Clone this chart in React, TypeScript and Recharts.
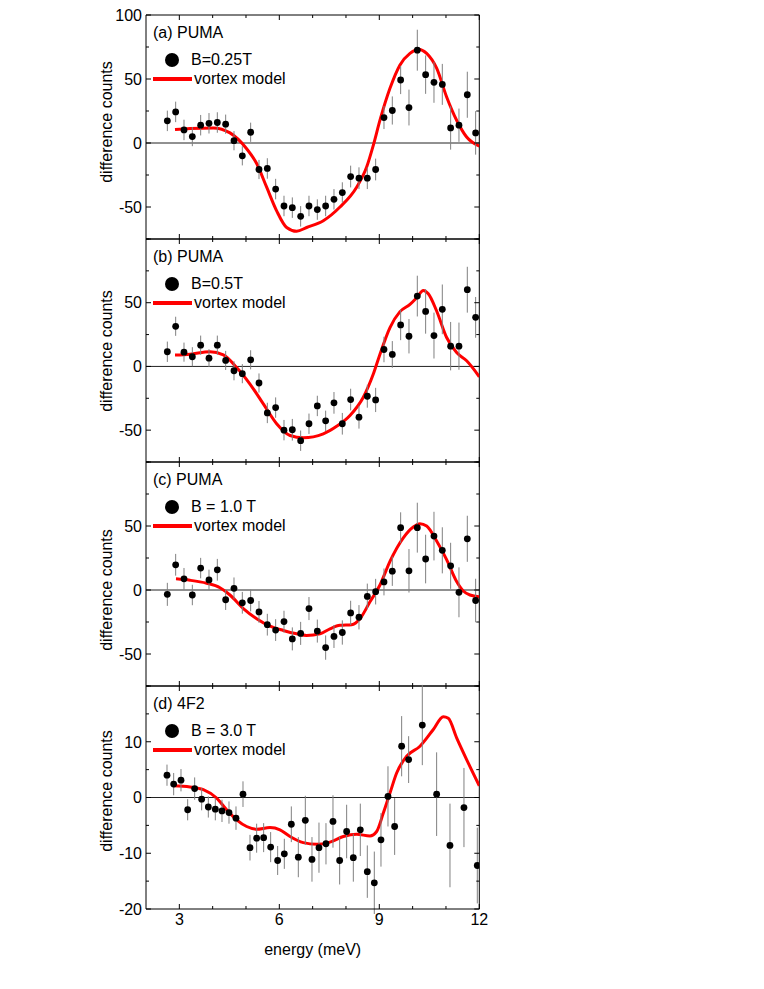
import React from "react";
import {
  ComposedChart,
  Line,
  Scatter,
  ErrorBar,
  XAxis,
  YAxis,
  ReferenceLine,
} from "recharts";

const FONT = "'Liberation Sans', Arial, Helvetica, sans-serif";

// energy grid of the PUMA scans (meV)
const energyPuma = [
  2.64, 2.89, 3.14, 3.39, 3.64, 3.89, 4.14, 4.39, 4.64, 4.89, 5.14, 5.39, 5.64,
  5.89, 6.14, 6.39, 6.64, 6.89, 7.14, 7.39, 7.64, 7.89, 8.14, 8.39, 8.64, 8.89,
  9.14, 9.39, 9.64, 9.89, 10.14, 10.39, 10.64, 10.89, 11.14, 11.39, 11.64, 11.89,
];

// (a) B=0.25T
const countsA = [
  17.3, 24.3, 10.2, 5, 13.9, 15.4, 16, 14.7, 1.8, -10, 8.4, -20.7, -19.9, -36,
  -49.2, -50.5, -57.3, -49.2, -52, -49.2, -44, -38.7, -26.2, -27.5, -27.5, -20.7,
  19.9, 25.4, 49.2, 27.7, 72.5, 53.4, 47.4, 45.8, 11.8, 13.9, 37.7, 7.9,
];
const errA = [
  8, 8, 8, 7.5, 8, 8, 8, 7.5, 7.5, 7.5, 7.5, 7.5, 8, 8, 8, 8, 8, 8, 8, 8, 8, 8,
  8.5, 8.5, 8.5, 8.5, 9, 11, 11, 14, 16, 15, 16, 16, 17, 13, 18, 17,
];

// (b) B=0.5T
const countsB = [
  11.5, 31.5, 11.2, 7.6, 16.7, 6.5, 16.7, 4.7, -3.4, -5.7, 5.2, -13, -36.5, -32.3,
  -50, -49.7, -58.3, -45, -31, -42.7, -28.6, -45, -26, -39.8, -23.4, -26.3, 13.3,
  9.4, 32.6, 23.7, 55.2, 43.2, 24.2, 44.8, 15.9, 15.9, 60.2, 38.5,
];
const errB = [
  8, 7.5, 7.5, 7.5, 7.5, 7, 7.5, 7.5, 7.5, 7.5, 7.5, 7.5, 8, 8, 8, 8.5, 8, 8, 8, 8,
  8.5, 8.5, 8.5, 9, 9, 9.5, 10, 10.5, 12, 13.5, 16, 17.5, 18, 19.5, 19, 18.5, 18, 16,
];

// (c) B = 1.0 T
const countsC = [
  -3.4, 19.7, 8.7, -3.9, 17.1, 7.9, 15.8, -7.6, 1.3, -10, -8.2, -17.1, -27.1,
  -31.3, -24.7, -38.2, -33.9, -14.5, -32.1, -45, -36.3, -33.2, -17.9, -21.3, -5,
  -1.3, 6.3, 14.7, 48.7, 15, 48.7, 24.2, 42.1, 31, 18.9, -1.8, 40, -8.2,
];
const errC = [
  9, 8.5, 8.5, 8, 8, 8, 8.5, 8, 8.5, 8.5, 8.5, 8.5, 8.5, 8.5, 8.5, 9, 9, 9, 9, 9.5,
  9, 9.5, 9.5, 9.5, 10, 10, 10.5, 11.5, 12, 17, 19.5, 19, 19, 18, 18, 19.5, 18, 17,
];

// (d) 4F2, B = 3.0 T
const energy4F2 = [
  2.63, 2.83, 3.05, 3.25, 3.46, 3.67, 3.87, 4.08, 4.28, 4.49, 4.7, 4.91, 5.12,
  5.32, 5.53, 5.74, 5.95, 6.15, 6.36, 6.57, 6.78, 6.98, 7.19, 7.4, 7.61, 7.81,
  8.02, 8.22, 8.43, 8.64, 8.85, 9.05, 9.26, 9.46, 9.67, 9.88, 10.29, 10.72, 11.12,
  11.54, 11.94,
];
const countsD = [
  4, 2.4, 3.1, -2.2, 1.6, -0.3, -1.7, -2.1, -2.4, -2.7, -3.7, 0.6, -9, -7.3, -7.2,
  -8.9, -11.3, -10.1, -4.8, -10.7, -4.1, -11.1, -9, -8.3, -4.3, -11.3, -6.1,
  -10.8, -5.8, -13.3, -15.3, -7.6, 0.2, -5.2, 9.2, 6.8, 13, 0.6, -8.6, -1.8, -12.2,
];
const errD = [
  1.9, 2, 2, 1.9, 2, 2, 1.9, 2, 2, 2, 2.1, 2.3, 2.3, 2.6, 2.6, 2.7, 2.6, 2.7, 3.2,
  3.6, 4.4, 4, 4.5, 3.7, 4.7, 4.3, 4.8, 4.3, 4.7, 4.7, 5.6, 4.8, 5.4, 5.1, 5.4,
  4.2, 7.2, 7.5, 7.5, 7.1, 6.8,
];

// vortex model curves
const modelAx = [
  2.87, 3.32, 4.02, 4.52, 5.02, 5.32, 5.62, 5.92, 6.22, 6.52, 6.82, 7.32, 7.82,
  8.32, 8.62, 8.82, 9.02, 9.32, 9.62, 9.92, 10.17, 10.42, 10.72, 11.02, 11.32,
  11.62, 12,
];
const modelAy = [
  10.5, 11.3, 11.8, 7.9, -4.5, -16, -34.5, -53, -66, -69, -66, -60.7, -50, -34.5,
  -18.8, -1.8, 17.8, 42.7, 61, 70, 73.3, 70, 58.4, 36, 17.8, 4.7, -2.4,
];
const modelBx = [
  2.87, 3.32, 3.92, 4.32, 4.72, 5.12, 5.52, 5.92, 6.32, 6.72, 7.32, 7.72, 8.12,
  8.52, 8.82, 9.02, 9.32, 9.62, 9.92, 10.12, 10.32, 10.47, 10.72, 11.02, 11.32,
  11.62, 12,
];
const modelBy = [
  8.9, 9.6, 11.5, 9.1, -0.8, -13.8, -29.4, -45, -54.2, -56, -52.9, -47, -38.5,
  -24.2, -6, 9.6, 30.5, 43, 48.7, 53.9, 59.6, 57, 43.5, 22.7, 10.9, 4.4, -8.1,
];
const modelCx = [
  2.9, 3.32, 3.82, 4.22, 4.52, 4.92, 5.32, 5.72, 6.12, 6.52, 6.82, 7.22, 7.52,
  7.82, 8.17, 8.42, 8.72, 9.02, 9.32, 9.72, 10.02, 10.22, 10.42, 10.72, 11.02,
  11.32, 11.52, 11.72, 12,
];
const modelCy = [
  8.7, 7.6, 5.3, 1.8, -3.9, -14.5, -22.4, -28.2, -31.6, -34.2, -35.5, -34.2,
  -30.3, -27.6, -27.1, -22.4, -9.2, 3.9, 22.4, 40.8, 49.2, 51.8, 50, 38.2, 23.7,
  6.6, -0.8, -3.9, -5.3,
];
const modelDx = [
  2.82, 3.32, 3.72, 4.12, 4.42, 4.72, 5.02, 5.32, 5.72, 6.02, 6.32, 6.72, 7.12,
  7.52, 7.92, 8.32, 8.72, 8.92, 9.12, 9.32, 9.52, 9.82, 10.22, 10.62, 10.92,
  11.07, 11.32, 11.62, 12,
];
const modelDy = [
  2.1, 1.9, 1.4, -0.1, -2.2, -4, -5.2, -5.7, -5.4, -5.8, -7, -8.1, -8.4, -8, -7,
  -6.6, -6.9, -6.1, -2.8, 0.8, 4.4, 7.4, 9.2, 12.2, 14.5, 14.2, 10.7, 6.8, 2.1,
];

// axis ticks
const xTicks = [3, 4, 5, 6, 7, 8, 9, 10, 11, 12];
const xMajor = [3, 6, 9, 12];
const countTicks = [-75, -50, -25, 0, 25, 50, 75, 100];
const countMajor = [-50, 0, 50, 100];
const smallTicks = [-20, -15, -10, -5, 0, 5, 10, 15, 20];
const smallMajor = [-20, -10, 0, 10, 20];

const PLOT_LEFT = 146;
const PLOT_RIGHT = 479.3;
const PLOT_W = PLOT_RIGHT - PLOT_LEFT;
const Y_AXIS_W = 40;

const toPoints = (xs: number[], ys: number[], es: number[]) =>
  xs.map((x, i) => ({ x, y: ys[i], err: es[i] }));
const toCurve = (xs: number[], ys: number[]) =>
  xs.map((x, i) => ({ x, y: ys[i] }));

interface PanelProps {
  top: number;
  height: number;
  title: string;
  field: string;
  points: { x: number; y: number; err: number }[];
  model: { x: number; y: number }[];
  domain: [number, number];
  ticks: number[];
  major: number[];
  labels: number[];
  showX: boolean;
  labelY: number;
}

function Panel(p: PanelProps) {
  const H = p.height;
  const yTick = (props: any) => {
    const { x, y, payload } = props;
    const v = payload.value;
    const len = p.major.includes(v) ? 5 : 3;
    return (
      <g>
        <line x1={x} y1={y} x2={x + len} y2={y} stroke="#000" />
        <line x1={x + PLOT_W} y1={y} x2={x + PLOT_W - len} y2={y} stroke="#000" />
        {p.labels.includes(v) && (
          <text x={x - 4} y={y} dy="0.36em" textAnchor="end" fontSize={16} fontFamily={FONT} fill="#000">
            {v}
          </text>
        )}
      </g>
    );
  };
  const xTick = (props: any) => {
    const { x, y, payload } = props;
    const v = payload.value;
    const len = xMajor.includes(v) ? 5 : 3;
    return (
      <g>
        <line x1={x} y1={y} x2={x} y2={y - len} stroke="#000" />
        <line x1={x} y1={y - H} x2={x} y2={y - H + len} stroke="#000" />
        {p.showX && xMajor.includes(v) && (
          <text x={x} y={y + 15.5} textAnchor="middle" fontSize={16} fontFamily={FONT} fill="#000">
            {v}
          </text>
        )}
      </g>
    );
  };
  const txt: React.CSSProperties = {
    position: "absolute",
    fontSize: 16,
    lineHeight: "16px",
    whiteSpace: "nowrap",
    color: "#000",
  };
  return (
    <>
      <div style={{ position: "absolute", left: 0, top: p.top - 10 }}>
        <ComposedChart
          width={764}
          height={H + 50}
          margin={{ top: 10, right: 764 - PLOT_RIGHT, bottom: 10, left: PLOT_LEFT - Y_AXIS_W }}
        >
          <XAxis
            type="number"
            dataKey="x"
            domain={[2, 12]}
            ticks={xTicks}
            interval={0}
            allowDataOverflow
            height={30}
            tickSize={0}
            tickMargin={0}
            tickLine={false}
            axisLine={{ stroke: "#000" }}
            tick={xTick}
          />
          <YAxis
            type="number"
            dataKey="y"
            domain={p.domain}
            ticks={p.ticks}
            interval={0}
            allowDataOverflow
            width={Y_AXIS_W}
            tickSize={0}
            tickMargin={0}
            tickLine={false}
            axisLine={{ stroke: "#000" }}
            tick={yTick}
          />
          <ReferenceLine y={0} stroke="#222" strokeWidth={1} />
          <ReferenceLine y={p.domain[1]} stroke="#000" strokeWidth={1} />
          <ReferenceLine x={12} stroke="#000" strokeWidth={1} />
          <Line
            data={p.model}
            dataKey="y"
            type="monotone"
            stroke="#ff0000"
            strokeWidth={3}
            dot={false}
            activeDot={false}
            isAnimationActive={false}
          />
          <Scatter
            data={p.points}
            dataKey="y"
            isAnimationActive={false}
            shape={(s: any) => <circle cx={s.cx} cy={s.cy} r={3.4} fill="#000" />}
          >
            <ErrorBar dataKey="err" direction="y" width={0} stroke="#808080" strokeWidth={1} isAnimationActive={false} />
          </Scatter>
        </ComposedChart>
      </div>
      <div style={{ ...txt, left: 153, top: p.top + 18 - 8 }}>{p.title}</div>
      <div
        style={{
          position: "absolute",
          left: 172.3 - 7,
          top: p.top + 44.5 - 7,
          width: 14,
          height: 14,
          borderRadius: "50%",
          background: "#000",
        }}
      />
      <div style={{ ...txt, left: 191, top: p.top + 44.5 - 8 }}>{p.field}</div>
      <div
        style={{
          position: "absolute",
          left: 152.7,
          top: p.top + 64 - 1.7,
          width: 39,
          height: 3.4,
          background: "#ff0000",
        }}
      />
      <div style={{ ...txt, left: 194, top: p.top + 64 - 8 }}>vortex model</div>
      <div
        style={{
          ...txt,
          left: 107 - 100,
          top: p.labelY - 10,
          width: 200,
          lineHeight: "20px",
          textAlign: "center",
          transform: "rotate(-90deg)",
        }}
      >
        difference counts
      </div>
    </>
  );
}

export default function App() {
  return (
    <div
      style={{
        position: "absolute",
        left: 0,
        top: 0,
        width: 764,
        height: 989,
        background: "#fff",
        fontFamily: FONT,
      }}
    >
      <Panel
        top={15}
        height={224}
        title="(a) PUMA"
        field="B=0.25T"
        points={toPoints(energyPuma, countsA, errA)}
        model={toCurve(modelAx, modelAy)}
        domain={[-75, 100]}
        ticks={countTicks}
        major={countMajor}
        labels={[100, 50, 0, -50]}
        showX={false}
        labelY={122}
      />
      <Panel
        top={239}
        height={223}
        title="(b) PUMA"
        field="B=0.5T"
        points={toPoints(energyPuma, countsB, errB)}
        model={toCurve(modelBx, modelBy)}
        domain={[-75, 100]}
        ticks={countTicks}
        major={countMajor}
        labels={[50, 0, -50]}
        showX={false}
        labelY={351}
      />
      <Panel
        top={462}
        height={224}
        title="(c) PUMA"
        field="B = 1.0 T"
        points={toPoints(energyPuma, countsC, errC)}
        model={toCurve(modelCx, modelCy)}
        domain={[-75, 100]}
        ticks={countTicks}
        major={countMajor}
        labels={[50, 0, -50]}
        showX={false}
        labelY={590}
      />
      <Panel
        top={686}
        height={223}
        title="(d) 4F2"
        field="B = 3.0 T"
        points={toPoints(energy4F2, countsD, errD)}
        model={toCurve(modelDx, modelDy)}
        domain={[-20, 20]}
        ticks={smallTicks}
        major={smallMajor}
        labels={[10, 0, -10, -20]}
        showX={true}
        labelY={791}
      />
      <div
        style={{
          position: "absolute",
          left: 312.7 - 100,
          top: 950 - 10,
          width: 200,
          fontSize: 16,
          lineHeight: "20px",
          textAlign: "center",
        }}
      >
        energy (meV)
      </div>
    </div>
  );
}
